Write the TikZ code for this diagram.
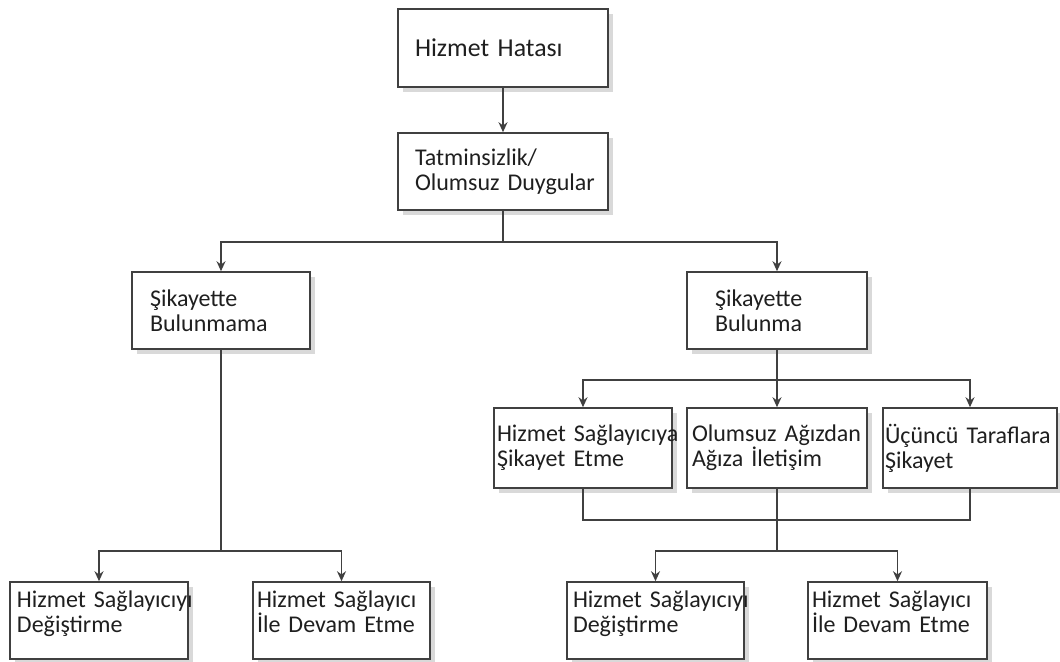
\documentclass[tikz,border=0pt]{standalone}
\usepackage{fontspec}
\setmainfont{Carlito}
\usetikzlibrary{arrows.meta,shadows}
\newcommand{\boxfont}{\fontsize{12}{12.5}\selectfont}
\definecolor{edgegray}{HTML}{404040}
\definecolor{textgray}{HTML}{1F1F1F}
\hyphenpenalty=10000
\exhyphenpenalty=10000

\begin{document}
\begin{tikzpicture}[
    x=0.5pt, y=-0.5pt,
    box/.style={draw=edgegray, line width=0.8pt, fill=white, align=left,
      text=textgray, font=\boxfont, inner ysep=2pt,
      drop shadow={shadow xshift=2.5pt, shadow yshift=-2.5pt, opacity=0.3}},
    tallbox/.style={box, minimum height=38.5pt},
    midbox/.style={box, minimum height=40pt},
    lowbox/.style={box, minimum height=38.5pt, text depth=21.5pt},
    line/.style={draw=edgegray, line width=0.8pt},
    arrow/.style={line, -{Stealth[length=5pt, width=4.5pt]}}
]
\useasboundingbox (0,0) rectangle (1060,661);

% ---- top: failure and feelings ----
\node[tallbox, minimum height=39pt, text width=88pt, inner xsep=8.5pt,
  font=\fontsize{12.9}{13.5}\selectfont] (hh) at (503,48) {Hizmet~Hatası};
\node[tallbox, text width=88pt, inner xsep=8.5pt] (tat) at (503,171.5) {Tatminsizlik/\\Olumsuz~Duygular};

% ---- second level ----
\node[tallbox, text width=71pt, inner xsep=9pt] (yok) at (221,310.5) {Şikayette\\Bulunmama};
\node[tallbox, text width=62pt, inner xsep=14pt] (var) at (777,310.5) {Şikayette\\Bulunma};

% ---- complaint channels ----
\node[midbox, text width=86pt, inner xsep=1.5pt] (saglayici) at (583,448) {Hizmet~Sağlayıcıya\\Şikayet~Etme};
\node[midbox, text width=85pt, inner xsep=2.5pt] (agizdan) at (777,448) {Olumsuz~Ağızdan\\Ağıza~İletişim};
\node[midbox, text width=85pt, inner xsep=1pt] (ucuncu) at (970,448) {Üçüncü~Taraflara\\Şikayet};

% ---- outcomes ----
\node[lowbox, text width=82pt, inner xsep=3.5pt] (degisL) at (99,620.5) {Hizmet~Sağlayıcıyı\\Değiştirme};
\node[lowbox, text width=84.5pt, inner xsep=2pt] (devamL) at (341.5,620.5) {Hizmet~Sağlayıcı\\İle~Devam~Etme};
\node[lowbox, text width=82.5pt, inner xsep=3pt] (degisR) at (655.5,620.5) {Hizmet~Sağlayıcıyı\\Değiştirme};
\node[lowbox, text width=85.5pt, inner xsep=2pt] (devamR) at (897.5,620.5) {Hizmet~Sağlayıcı\\İle~Devam~Etme};

% ---- connectors ----
\coordinate (split) at (503,242);
\coordinate (leftsplit) at (221,551);
\coordinate (rightsplit) at (777,380);
\coordinate (merge) at (777,520);
\coordinate (mergesplit) at (777,551);

\draw[arrow] (hh) -- (tat);
\draw[line] (tat) -- (split);
\draw[arrow] (split) -| (yok);
\draw[arrow] (split) -| (var);

\draw[line] (yok) -- (leftsplit);
\draw[arrow] (leftsplit) -| (degisL);
\draw[arrow] (leftsplit) -| (devamL);

\draw[line] (var) -- (rightsplit);
\draw[arrow] (rightsplit) -| (saglayici);
\draw[arrow] (rightsplit) -- (agizdan);
\draw[arrow] (rightsplit) -| (ucuncu);

\draw[line] (saglayici) |- (merge);
\draw[line] (ucuncu) |- (merge);
\draw[line] (agizdan) -- (mergesplit);
\draw[arrow] (mergesplit) -| (degisR);
\draw[arrow] (mergesplit) -| (devamR);
\end{tikzpicture}
\end{document}
